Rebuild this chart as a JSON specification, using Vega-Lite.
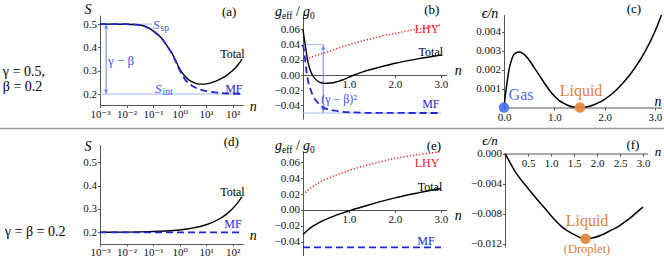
{
"$schema": "https://vega.github.io/schema/vega-lite/v6.json",
"width": 664, "height": 256, "padding": 0, "autosize": {"type": "none"},
"background": "white",
"config": {
  "view": {"stroke": null},
  "axis": {"grid": false, "domainColor": "#555", "tickColor": "#555", "labelFont": "Liberation Serif, Times New Roman, DejaVu Serif, serif", "labelFontSize": 11, "labelColor": "#111", "tickSize": 2.5, "labelPadding": 1, "labelFlush": false, "labelOverlap": false, "labelBound": false, "domainWidth": 1, "tickWidth": 1},
  "text": {"font": "Liberation Serif, Times New Roman, DejaVu Serif, serif", "color": "#000"}
},
"resolve": {"scale": {"x": "independent", "y": "independent"}},
"datasets": {
  "A_tot": [{"n":0.001,"v":0.5},{"n":0.003,"v":0.5},{"n":0.01,"v":0.4995},{"n":0.02,"v":0.498},{"n":0.035,"v":0.495},{"n":0.05,"v":0.49},{"n":0.066,"v":0.484},{"n":0.1,"v":0.471},{"n":0.15,"v":0.455},{"n":0.21,"v":0.439},{"n":0.3,"v":0.415},{"n":0.4,"v":0.394},{"n":0.51,"v":0.375},{"n":0.7,"v":0.345},{"n":0.9,"v":0.318},{"n":1.2,"v":0.294},{"n":1.62,"v":0.275},{"n":2.2,"v":0.261},{"n":2.9,"v":0.253},{"n":4,"v":0.246},{"n":5.5,"v":0.2425},{"n":7.5,"v":0.2425},{"n":10,"v":0.2435},{"n":14,"v":0.247},{"n":22,"v":0.254},{"n":35,"v":0.265},{"n":52,"v":0.276},{"n":80,"v":0.292},{"n":123,"v":0.311},{"n":170,"v":0.33},{"n":224,"v":0.35}],
  "A_mf": [{"n":0.001,"v":0.5},{"n":0.003,"v":0.5},{"n":0.01,"v":0.4995},{"n":0.02,"v":0.498},{"n":0.035,"v":0.495},{"n":0.05,"v":0.49},{"n":0.066,"v":0.484},{"n":0.1,"v":0.471},{"n":0.15,"v":0.455},{"n":0.21,"v":0.439},{"n":0.3,"v":0.415},{"n":0.4,"v":0.394},{"n":0.51,"v":0.374},{"n":0.7,"v":0.342},{"n":0.9,"v":0.313},{"n":1.2,"v":0.285},{"n":1.62,"v":0.262},{"n":2.2,"v":0.246},{"n":2.9,"v":0.236},{"n":4,"v":0.227},{"n":5.5,"v":0.22},{"n":7.5,"v":0.216},{"n":10,"v":0.213},{"n":14,"v":0.21},{"n":22,"v":0.207},{"n":39,"v":0.204},{"n":70,"v":0.202},{"n":123,"v":0.201},{"n":224,"v":0.2005}],
  "B_tot": [{"n":0,"v":0.06},{"n":0.02,"v":0.051},{"n":0.04,"v":0.043},{"n":0.06,"v":0.035},{"n":0.08,"v":0.027},{"n":0.1,"v":0.02},{"n":0.12,"v":0.014},{"n":0.15,"v":0.0075},{"n":0.2,"v":0.0005},{"n":0.26,"v":-0.0048},{"n":0.33,"v":-0.0085},{"n":0.4,"v":-0.0102},{"n":0.48,"v":-0.011},{"n":0.6,"v":-0.0105},{"n":0.7,"v":-0.0095},{"n":0.8,"v":-0.0078},{"n":0.9,"v":-0.0054},{"n":1.0,"v":-0.0028},{"n":1.1,"v":-0.0003},{"n":1.3,"v":0.0042},{"n":1.6,"v":0.0092},{"n":2.0,"v":0.0154},{"n":2.5,"v":0.0212},{"n":3.0,"v":0.0263}],
  "B_mf": [{"n":0,"v":0.04},{"n":0.02,"v":0.033},{"n":0.04,"v":0.024},{"n":0.06,"v":0.013},{"n":0.08,"v":0.003},{"n":0.1,"v":-0.004},{"n":0.12,"v":-0.0105},{"n":0.15,"v":-0.0165},{"n":0.2,"v":-0.025},{"n":0.26,"v":-0.032},{"n":0.33,"v":-0.037},{"n":0.4,"v":-0.041},{"n":0.5,"v":-0.0443},{"n":0.7,"v":-0.047},{"n":1.0,"v":-0.049},{"n":1.5,"v":-0.0498},{"n":3.0,"v":-0.05}],
  "B_lhy": [{"n":0,"v":0.019},{"n":0.1,"v":0.0215},{"n":0.2,"v":0.024},{"n":0.3,"v":0.026},{"n":0.4,"v":0.028},{"n":0.55,"v":0.0307},{"n":0.7,"v":0.034},{"n":0.85,"v":0.037},{"n":1.0,"v":0.0398},{"n":1.27,"v":0.0445},{"n":1.6,"v":0.0495},{"n":2.0,"v":0.0548},{"n":2.5,"v":0.0605},{"n":3.0,"v":0.0658}],
  "C_curve": [{"n":0,"v":0},{"n":0.02,"v":0.0005},{"n":0.05,"v":0.0011},{"n":0.1,"v":0.002},{"n":0.15,"v":0.0025},{"n":0.2,"v":0.0028},{"n":0.3,"v":0.00292},{"n":0.4,"v":0.0028},{"n":0.5,"v":0.0025},{"n":0.6,"v":0.0021},{"n":0.7,"v":0.0017},{"n":0.8,"v":0.0013},{"n":0.9,"v":0.00092},{"n":1.0,"v":0.0006},{"n":1.1,"v":0.00036},{"n":1.2,"v":0.0002},{"n":1.3,"v":0.00008},{"n":1.4,"v":0.00002},{"n":1.5,"v":0},{"n":1.6,"v":0.00002},{"n":1.7,"v":0.00007},{"n":1.8,"v":0.00016},{"n":1.9,"v":0.00028},{"n":2.0,"v":0.00043},{"n":2.2,"v":0.00084},{"n":2.4,"v":0.00139},{"n":2.6,"v":0.00208},{"n":2.8,"v":0.00293},{"n":3.0,"v":0.004},{"n":3.13,"v":0.00487}],
  "D_tot": [{"n":0.001,"v":0.2003},{"n":0.01,"v":0.201},{"n":0.03,"v":0.2018},{"n":0.1,"v":0.2032},{"n":0.3,"v":0.2056},{"n":1,"v":0.2102},{"n":3,"v":0.2177},{"n":10,"v":0.2323},{"n":30,"v":0.2559},{"n":60,"v":0.279},{"n":100,"v":0.302},{"n":150,"v":0.325},{"n":224,"v":0.353}],
  "D_mf": [{"n":0.001,"v":0.2},{"n":224,"v":0.2}],
  "E_tot": [{"n":0,"v":-0.031},{"n":0.1,"v":-0.0255},{"n":0.2,"v":-0.021},{"n":0.35,"v":-0.0158},{"n":0.55,"v":-0.0105},{"n":0.8,"v":-0.005},{"n":1.06,"v":0},{"n":1.3,"v":0.004},{"n":1.6,"v":0.0092},{"n":2.0,"v":0.0153},{"n":2.5,"v":0.0215},{"n":3.0,"v":0.027}],
  "E_mf": [{"n":0,"v":-0.047},{"n":3.0,"v":-0.047}],
  "E_lhy": [{"n":0,"v":0.019},{"n":0.1,"v":0.0245},{"n":0.2,"v":0.029},{"n":0.35,"v":0.0345},{"n":0.55,"v":0.04},{"n":0.8,"v":0.0458},{"n":1.0,"v":0.0497},{"n":1.27,"v":0.0545},{"n":1.6,"v":0.0595},{"n":2.0,"v":0.065},{"n":2.5,"v":0.0695},{"n":3.0,"v":0.0735}],
  "F_curve": [{"n":0,"v":0},{"n":0.1,"v":-0.0011},{"n":0.22,"v":-0.0024},{"n":0.35,"v":-0.0035},{"n":0.51,"v":-0.0047},{"n":0.7,"v":-0.0061},{"n":0.87,"v":-0.0073},{"n":1.05,"v":-0.0086},{"n":1.23,"v":-0.0097},{"n":1.4,"v":-0.0104},{"n":1.52,"v":-0.0108},{"n":1.65,"v":-0.0112},{"n":1.75,"v":-0.0113},{"n":1.9,"v":-0.0112},{"n":2.1,"v":-0.0108},{"n":2.3,"v":-0.0102},{"n":2.46,"v":-0.0097},{"n":2.6,"v":-0.0091},{"n":2.75,"v":-0.0084},{"n":2.9,"v":-0.0076},{"n":3.0,"v":-0.0071}]
},
"layer": [
  {
    "encoding": {
      "x": {"field": "n", "type": "quantitative", "scale": {"type": "log", "domain": [0.001, 250], "range": [100, 243.3], "nice": false},
        "axis": {"orient": "bottom", "offset": -151, "values": [0.001, 0.01, 0.1, 1, 10, 100], "labelExpr": "datum.value < 0.005 ? '10⁻³' : datum.value < 0.05 ? '10⁻²' : datum.value < 0.5 ? '10⁻¹' : datum.value < 5 ? '10⁰' : datum.value < 50 ? '10¹' : '10²'", "title": null}},
      "y": {"field": "v", "type": "quantitative", "scale": {"domain": [0.153, 0.539], "range": [105, 15], "zero": false, "nice": false},
        "axis": {"orient": "left", "offset": -100, "values": [0.2, 0.3, 0.4, 0.5], "format": ".1f", "title": null}}
    },
    "layer": [
      {"data": {"values": [{"n": 0.001, "n2": 0.09, "v": 0.5, "v2": 0.5}, {"n": 0.001, "n2": 224, "v": 0.2, "v2": 0.2}]}, "mark": {"type": "rule", "color": "#aab6f4", "strokeWidth": 1}, "encoding": {"x2": {"field": "n2"}, "y2": {"field": "v2"}}},
      {"data": {"values": [{"n": 0.0017, "n2": 0.0017, "v": 0.5, "v2": 0.2}]}, "mark": {"type": "rule", "color": "#6f82f2", "strokeWidth": 1}, "encoding": {"x2": {"field": "n2"}, "y2": {"field": "v2"}}},
      {"data": {"values": [{"n": 0.0017, "v": 0.489, "end": "top"}, {"n": 0.0017, "v": 0.211, "end": "bottom"}]}, "mark": {"type": "point", "filled": true, "color": "#6f82f2", "size": 18, "opacity": 1}, "encoding": {"shape": {"field": "end", "type": "nominal", "scale": {"domain": ["top", "bottom"], "range": ["triangle-up", "triangle-down"]}, "legend": null}}},
      {"data": {"name": "A_tot"}, "mark": {"type": "line", "color": "#000", "strokeWidth": 1.4, "interpolate": "monotone"}, "encoding": {}},
      {"data": {"name": "A_mf"}, "mark": {"type": "line", "color": "#2424d8", "strokeWidth": 1.8, "strokeDash": [7, 4], "interpolate": "monotone"}, "encoding": {}},
      {"data": {"values": [{"n": 33.7, "v": 0.3725, "label": "Total"}]}, "mark": {"type": "text", "align": "left", "baseline": "middle", "fontSize": 12, "color": "#000"}, "encoding": {"text": {"field": "label"}}},
      {"data": {"values": [{"n": 52, "v": 0.222, "label": "MF"}]}, "mark": {"type": "text", "align": "left", "baseline": "middle", "fontSize": 12, "color": "#2424d8"}, "encoding": {"text": {"field": "label"}}},
      {"data": {"values": [{"n": 73.8, "v": 0.553, "label": "(a)"}]}, "mark": {"type": "text", "align": "center", "baseline": "middle", "fontSize": 13, "color": "#000"}, "encoding": {"text": {"field": "label"}}},
      {"data": {"values": [{"n": 594, "v": 0.145, "label": "n"}, {"n": 0.000352, "v": 0.561, "label": "S"}]}, "mark": {"type": "text", "align": "center", "baseline": "middle", "fontSize": 14, "fontStyle": "italic", "color": "#000"}, "encoding": {"text": {"field": "label"}}},
      {"data": {"values": [{"n": 0.1, "v": 0.497, "label": "S"}, {"n": 0.119, "v": 0.222, "label": "S"}]}, "mark": {"type": "text", "align": "left", "baseline": "middle", "fontSize": 13, "fontStyle": "italic", "color": "#4056e8"}, "encoding": {"text": {"field": "label"}}},
      {"data": {"values": [{"n": 0.192, "v": 0.483, "label": "sp"}, {"n": 0.228, "v": 0.2094, "label": "int"}]}, "mark": {"type": "text", "align": "left", "baseline": "middle", "fontSize": 9.5, "color": "#4056e8"}, "encoding": {"text": {"field": "label"}}},
      {"data": {"values": [{"n": 0.0062, "v": 0.342, "label": "γ − β"}]}, "mark": {"type": "text", "align": "center", "baseline": "middle", "fontSize": 13, "color": "#4056e8"}, "encoding": {"text": {"field": "label"}}},
      {"data": {"values": [{"n": 2.19e-7, "v": 0.295, "label": "γ = 0.5,"}, {"n": 2.19e-7, "v": 0.231, "label": "β = 0.2"}]}, "mark": {"type": "text", "align": "left", "baseline": "middle", "fontSize": 14, "color": "#000"}, "encoding": {"text": {"field": "label"}}}
    ]
  },
  {
    "encoding": {
      "x": {"field": "n", "type": "quantitative", "scale": {"domain": [0, 3.12], "range": [303, 446.5], "zero": false, "nice": false},
        "axis": {"orient": "bottom", "offset": -181, "values": [1, 2, 3], "format": ".1f", "title": null}},
      "y": {"field": "v", "type": "quantitative", "scale": {"domain": [-0.058, 0.08], "range": [119.1, 14.2], "zero": false, "nice": false},
        "axis": {"orient": "left", "offset": -303, "values": [-0.04, -0.02, 0, 0.02, 0.04, 0.06], "format": ".2f", "title": null}}
    },
    "layer": [
      {"data": {"values": [{"n": 0, "n2": 0.44, "v": 0.04, "v2": 0.04}, {"n": 0, "n2": 3.0, "v": -0.05, "v2": -0.05}]}, "mark": {"type": "rule", "color": "#aab6f4", "strokeWidth": 1}, "encoding": {"x2": {"field": "n2"}, "y2": {"field": "v2"}}},
      {"data": {"values": [{"n": 0.44, "n2": 0.44, "v": 0.04, "v2": -0.05}]}, "mark": {"type": "rule", "color": "#6f82f2", "strokeWidth": 1}, "encoding": {"x2": {"field": "n2"}, "y2": {"field": "v2"}}},
      {"data": {"values": [{"n": 0.44, "v": 0.036, "end": "top"}, {"n": 0.44, "v": -0.046, "end": "bottom"}]}, "mark": {"type": "point", "filled": true, "color": "#6f82f2", "size": 18, "opacity": 1}, "encoding": {"shape": {"field": "end", "type": "nominal", "scale": {"domain": ["top", "bottom"], "range": ["triangle-up", "triangle-down"]}, "legend": null}}},
      {"data": {"name": "B_lhy"}, "mark": {"type": "line", "color": "#ee1c1c", "strokeWidth": 1.5, "strokeDash": [1.2, 2], "interpolate": "monotone"}, "encoding": {}},
      {"data": {"name": "B_mf"}, "mark": {"type": "line", "color": "#2424d8", "strokeWidth": 1.8, "strokeDash": [7, 4], "interpolate": "monotone"}, "encoding": {}},
      {"data": {"name": "B_tot"}, "mark": {"type": "line", "color": "#000", "strokeWidth": 1.4, "interpolate": "monotone"}, "encoding": {}},
      {"data": {"values": [{"n": 2.78, "v": 0.0303, "label": "Total"}]}, "mark": {"type": "text", "align": "center", "baseline": "middle", "fontSize": 12, "color": "#000"}, "encoding": {"text": {"field": "label"}}},
      {"data": {"values": [{"n": 2.78, "v": -0.0382, "label": "MF"}]}, "mark": {"type": "text", "align": "center", "baseline": "middle", "fontSize": 12, "color": "#2424d8"}, "encoding": {"text": {"field": "label"}}},
      {"data": {"values": [{"n": 2.696, "v": 0.0605, "label": "LHY"}]}, "mark": {"type": "text", "align": "center", "baseline": "middle", "fontSize": 12, "color": "#ee1c1c"}, "encoding": {"text": {"field": "label"}}},
      {"data": {"values": [{"n": 0.783, "v": -0.0316, "label": "(γ − β)²"}]}, "mark": {"type": "text", "align": "center", "baseline": "middle", "fontSize": 12, "color": "#4056e8"}, "encoding": {"text": {"field": "label"}}},
      {"data": {"values": [{"n": 2.8, "v": 0.0855, "label": "(b)"}]}, "mark": {"type": "text", "align": "center", "baseline": "middle", "fontSize": 13, "color": "#000"}, "encoding": {"text": {"field": "label"}}},
      {"data": {"values": [{"n": 3.3, "v": 0.0053, "label": "n"}, {"n": -0.609, "v": 0.0829, "label": "g"}, {"n": 0, "v": 0.0829, "label": "g"}]}, "mark": {"type": "text", "align": "left", "baseline": "middle", "fontSize": 14, "fontStyle": "italic", "color": "#000"}, "encoding": {"text": {"field": "label"}}},
      {"data": {"values": [{"n": -0.152, "v": 0.0829, "label": "/"}]}, "mark": {"type": "text", "align": "left", "baseline": "middle", "fontSize": 14, "color": "#000"}, "encoding": {"text": {"field": "label"}}},
      {"data": {"values": [{"n": -0.457, "v": 0.0776, "label": "eff"}, {"n": 0.152, "v": 0.0776, "label": "0"}]}, "mark": {"type": "text", "align": "left", "baseline": "middle", "fontSize": 9.5, "color": "#000"}, "encoding": {"text": {"field": "label"}}}
    ]
  },
  {
    "encoding": {
      "x": {"field": "n", "type": "quantitative", "scale": {"domain": [0, 3.13], "range": [504, 661.5], "zero": false, "nice": false},
        "axis": {"orient": "bottom", "offset": -148.5, "values": [0, 1, 2, 3], "format": ".1f", "title": null}},
      "y": {"field": "v", "type": "quantitative", "scale": {"domain": [0, 0.0049], "range": [107.5, 14.4], "zero": false, "nice": false},
        "axis": {"orient": "left", "offset": -504, "values": [0.001, 0.002, 0.003, 0.004], "format": ".3f", "title": null}}
    },
    "layer": [
      {"data": {"name": "C_curve"}, "mark": {"type": "line", "color": "#000", "strokeWidth": 1.5, "interpolate": "monotone"}, "encoding": {}},
      {"data": {"values": [{"n": 0, "v": 0}]}, "mark": {"type": "circle", "color": "#4d6ff2", "size": 110, "opacity": 0.9}, "encoding": {}},
      {"data": {"values": [{"n": 1.51, "v": 0}]}, "mark": {"type": "circle", "color": "#e4893f", "size": 110, "opacity": 0.95}, "encoding": {}},
      {"data": {"values": [{"n": 0.338, "v": 0.000658, "label": "Gas"}]}, "mark": {"type": "text", "align": "center", "baseline": "middle", "fontSize": 16, "color": "#4d6ff2"}, "encoding": {"text": {"field": "label"}}},
      {"data": {"values": [{"n": 1.53, "v": 0.000868, "label": "Liquid"}]}, "mark": {"type": "text", "align": "center", "baseline": "middle", "fontSize": 16, "color": "#e3803c"}, "encoding": {"text": {"field": "label"}}},
      {"data": {"values": [{"n": 2.583, "v": 0.00518, "label": "(c)"}]}, "mark": {"type": "text", "align": "center", "baseline": "middle", "fontSize": 13, "color": "#000"}, "encoding": {"text": {"field": "label"}}},
      {"data": {"values": [{"n": 3.06, "v": 0.00029, "label": "n"}, {"n": -0.278, "v": 0.00492, "label": "ϵ/n"}]}, "mark": {"type": "text", "align": "center", "baseline": "middle", "fontSize": 14, "fontStyle": "italic", "color": "#000"}, "encoding": {"text": {"field": "label"}}}
    ]
  },
  {
    "encoding": {
      "x": {"field": "n", "type": "quantitative", "scale": {"type": "log", "domain": [0.001, 250], "range": [100, 243.3], "nice": false},
        "axis": {"orient": "bottom", "offset": -12, "tickSize": 2, "labelPadding": 0, "values": [0.001, 0.01, 0.1, 1, 10, 100], "labelExpr": "datum.value < 0.005 ? '10⁻³' : datum.value < 0.05 ? '10⁻²' : datum.value < 0.5 ? '10⁻¹' : datum.value < 5 ? '10⁰' : datum.value < 50 ? '10¹' : '10²'", "title": null}},
      "y": {"field": "v", "type": "quantitative", "scale": {"domain": [0.15, 0.575], "range": [244, 144.7], "zero": false, "nice": false},
        "axis": {"orient": "left", "offset": -100, "values": [0.2, 0.3, 0.4, 0.5], "format": ".1f", "title": null}}
    },
    "layer": [
      {"data": {"name": "D_tot"}, "mark": {"type": "line", "color": "#000", "strokeWidth": 1.4, "interpolate": "monotone"}, "encoding": {}},
      {"data": {"name": "D_mf"}, "mark": {"type": "line", "color": "#2424d8", "strokeWidth": 1.8, "strokeDash": [7, 4]}, "encoding": {}},
      {"data": {"values": [{"n": 33.7, "v": 0.3726, "label": "Total"}]}, "mark": {"type": "text", "align": "left", "baseline": "middle", "fontSize": 12, "color": "#000"}, "encoding": {"text": {"field": "label"}}},
      {"data": {"values": [{"n": 47.8, "v": 0.2356, "label": "MF"}]}, "mark": {"type": "text", "align": "left", "baseline": "middle", "fontSize": 12, "color": "#2424d8"}, "encoding": {"text": {"field": "label"}}},
      {"data": {"values": [{"n": 87.8, "v": 0.5866, "label": "(d)"}]}, "mark": {"type": "text", "align": "center", "baseline": "middle", "fontSize": 13, "color": "#000"}, "encoding": {"text": {"field": "label"}}},
      {"data": {"values": [{"n": 594, "v": 0.184, "label": "n"}, {"n": 0.000352, "v": 0.565, "label": "S"}]}, "mark": {"type": "text", "align": "center", "baseline": "middle", "fontSize": 14, "fontStyle": "italic", "color": "#000"}, "encoding": {"text": {"field": "label"}}},
      {"data": {"values": [{"n": 2.6e-7, "v": 0.201, "label": "γ = β = 0.2"}]}, "mark": {"type": "text", "align": "left", "baseline": "middle", "fontSize": 14, "color": "#000"}, "encoding": {"text": {"field": "label"}}}
    ]
  },
  {
    "encoding": {
      "x": {"field": "n", "type": "quantitative", "scale": {"domain": [0, 3.12], "range": [303, 446.5], "zero": false, "nice": false},
        "axis": {"orient": "bottom", "offset": -46, "values": [1, 2, 3], "format": ".1f", "title": null}},
      "y": {"field": "v", "type": "quantitative", "scale": {"domain": [-0.0579, 0.0738], "range": [256, 151.3], "zero": false, "nice": false},
        "axis": {"orient": "left", "offset": -303, "values": [-0.04, -0.02, 0, 0.02, 0.04, 0.06], "format": ".2f", "title": null}}
    },
    "layer": [
      {"data": {"values": [{"n": -6.587, "n2": 7.848, "v": 0.1025, "v2": 0.1025}]}, "mark": {"type": "rule", "color": "#999", "strokeWidth": 1.5}, "encoding": {"x2": {"field": "n2"}, "y2": {"field": "v2"}}},
      {"data": {"name": "E_lhy"}, "mark": {"type": "line", "color": "#ee1c1c", "strokeWidth": 1.5, "strokeDash": [1.2, 2], "interpolate": "monotone"}, "encoding": {}},
      {"data": {"name": "E_mf"}, "mark": {"type": "line", "color": "#2424d8", "strokeWidth": 1.8, "strokeDash": [7, 4]}, "encoding": {}},
      {"data": {"name": "E_tot"}, "mark": {"type": "line", "color": "#000", "strokeWidth": 1.4, "interpolate": "monotone"}, "encoding": {}},
      {"data": {"values": [{"n": 2.761, "v": 0.029, "label": "Total"}]}, "mark": {"type": "text", "align": "center", "baseline": "middle", "fontSize": 12, "color": "#000"}, "encoding": {"text": {"field": "label"}}},
      {"data": {"values": [{"n": 2.674, "v": -0.039, "label": "MF"}]}, "mark": {"type": "text", "align": "center", "baseline": "middle", "fontSize": 12, "color": "#2424d8"}, "encoding": {"text": {"field": "label"}}},
      {"data": {"values": [{"n": 2.696, "v": 0.0591, "label": "LHY"}]}, "mark": {"type": "text", "align": "center", "baseline": "middle", "fontSize": 12, "color": "#ee1c1c"}, "encoding": {"text": {"field": "label"}}},
      {"data": {"values": [{"n": 2.848, "v": 0.0805, "label": "(e)"}]}, "mark": {"type": "text", "align": "center", "baseline": "middle", "fontSize": 13, "color": "#000"}, "encoding": {"text": {"field": "label"}}},
      {"data": {"values": [{"n": 3.3, "v": -0.0075, "label": "n"}, {"n": -0.609, "v": 0.0805, "label": "g"}, {"n": 0, "v": 0.0805, "label": "g"}]}, "mark": {"type": "text", "align": "left", "baseline": "middle", "fontSize": 14, "fontStyle": "italic", "color": "#000"}, "encoding": {"text": {"field": "label"}}},
      {"data": {"values": [{"n": -0.152, "v": 0.0805, "label": "/"}]}, "mark": {"type": "text", "align": "left", "baseline": "middle", "fontSize": 14, "color": "#000"}, "encoding": {"text": {"field": "label"}}},
      {"data": {"values": [{"n": -0.457, "v": 0.0755, "label": "eff"}, {"n": 0.152, "v": 0.0755, "label": "0"}]}, "mark": {"type": "text", "align": "left", "baseline": "middle", "fontSize": 9.5, "color": "#000"}, "encoding": {"text": {"field": "label"}}}
    ]
  },
  {
    "encoding": {
      "x": {"field": "n", "type": "quantitative", "scale": {"domain": [0, 3.1], "range": [505, 647.6], "zero": false, "nice": false},
        "axis": {"orient": "bottom", "offset": -102.5, "values": [0.5, 1, 1.5, 2, 2.5, 3], "format": ".1f", "title": null}},
      "y": {"field": "v", "type": "quantitative", "scale": {"domain": [-0.0124, 0], "range": [247, 153.5], "zero": false, "nice": false},
        "axis": {"orient": "left", "offset": -505, "values": [0, -0.004, -0.008, -0.012], "format": ".3f", "title": null}}
    },
    "layer": [
      {"data": {"name": "F_curve"}, "mark": {"type": "line", "color": "#000", "strokeWidth": 1.5, "interpolate": "monotone"}, "encoding": {}},
      {"data": {"values": [{"n": 1.75, "v": -0.0113}]}, "mark": {"type": "circle", "color": "#e4893f", "size": 110, "opacity": 0.95}, "encoding": {}},
      {"data": {"values": [{"n": 1.783, "v": -0.00895, "label": "Liquid"}]}, "mark": {"type": "text", "align": "center", "baseline": "middle", "fontSize": 16, "color": "#e3803c"}, "encoding": {"text": {"field": "label"}}},
      {"data": {"values": [{"n": 1.783, "v": -0.01267, "label": "(Droplet)"}]}, "mark": {"type": "text", "align": "center", "baseline": "middle", "fontSize": 12.5, "color": "#e3803c"}, "encoding": {"text": {"field": "label"}}},
      {"data": {"values": [{"n": 2.78, "v": 0.00113, "label": "(f)"}]}, "mark": {"type": "text", "align": "center", "baseline": "middle", "fontSize": 13, "color": "#000"}, "encoding": {"text": {"field": "label"}}},
      {"data": {"values": [{"n": 3.326, "v": 0.0002, "label": "n"}, {"n": -0.326, "v": 0.00166, "label": "ϵ/n"}]}, "mark": {"type": "text", "align": "center", "baseline": "middle", "fontSize": 13, "fontStyle": "italic", "color": "#000"}, "encoding": {"text": {"field": "label"}}}
    ]
  }
]
}
